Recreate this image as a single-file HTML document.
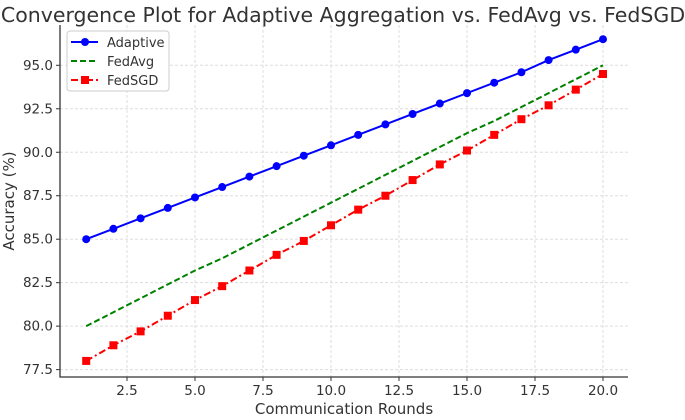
<!DOCTYPE html>
<html><head><meta charset="utf-8"><style>
body{margin:0;background:#fff;}
svg{font-family:"DejaVu Sans","Liberation Sans",sans-serif;}
</style></head><body>
<svg id="chart" width="685" height="415" xmlns="http://www.w3.org/2000/svg">
<text x="343" y="22" text-anchor="middle" font-size="20.5" fill="#333">Convergence Plot for Adaptive Aggregation vs. FedAvg vs. FedSGD</text>
<g id="grid"></g>
<g id="axes"></g>
<g id="series"></g>
<text x="344" y="414" text-anchor="middle" font-size="15" fill="#333">Communication Rounds</text>
<text transform="translate(14,201) rotate(-90)" text-anchor="middle" font-size="15" fill="#333">Accuracy (%)</text>
<g>
<rect x="67" y="31" width="102" height="60" rx="3" fill="#fff" stroke="#ccc"/>
<g><line x1="71" y1="42" x2="98" y2="42" stroke="#0000ff" stroke-width="2"/><circle cx="85" cy="42" r="4" fill="#0000ff"/><text x="107" y="47" font-size="13" fill="#333">Adaptive</text></g>
<g><line x1="71" y1="61" x2="98" y2="61" stroke="#008000" stroke-width="2" stroke-dasharray="6,3"/><text x="107" y="66" font-size="13" fill="#333">FedAvg</text></g>
<g><line x1="71" y1="80" x2="98" y2="80" stroke="#ff0000" stroke-width="2" stroke-dasharray="7,3,2,3"/><rect x="81" y="76" width="8" height="8" fill="#ff0000"/><text x="107" y="85" font-size="13" fill="#333">FedSGD</text></g>
</g>
</svg>
<script>
const rounds=[1,2,3,4,5,6,7,8,9,10,11,12,13,14,15,16,17,18,19,20];
const adaptive=[85.0,85.6,86.2,86.8,87.4,88.0,88.6,89.2,89.8,90.4,91.0,91.6,92.2,92.8,93.4,94.0,94.6,95.3,95.9,96.5];
const fedavg=[80.0,80.8,81.6,82.4,83.2,83.9,84.7,85.5,86.3,87.1,87.9,88.7,89.5,90.3,91.1,91.8,92.6,93.4,94.2,95.0];
const fedsgd=[78.0,78.9,79.7,80.6,81.5,82.3,83.2,84.1,84.9,85.8,86.7,87.5,88.4,89.3,90.1,91.0,91.9,92.7,93.6,94.5];
const xTicks=[2.5,5.0,7.5,10.0,12.5,15.0,17.5,20.0];
const yTicks=[77.5,80.0,82.5,85.0,87.5,90.0,92.5,95.0];
const NS="http://www.w3.org/2000/svg";
const X0=60,X1=628,Y0=25,Y1=377;
function sx(v){return 127+(v-2.5)*27.2;}
function sy(v){return 65.3-(v-95)*17.39;}
function mk(tag,attrs,parent){const e=document.createElementNS(NS,tag);for(const k in attrs)e.setAttribute(k,attrs[k]);parent.appendChild(e);return e;}
const grid=document.getElementById('grid'),axes=document.getElementById('axes'),series=document.getElementById('series');
xTicks.forEach(t=>{const x=sx(t);
 const g=mk('line',{x1:x,x2:x,y1:Y0,y2:Y1,stroke:'#ddd','stroke-dasharray':'3,2'},grid);
 
 
 mk('line',{x1:x,x2:x,y1:Y1,y2:Y1+4,stroke:'#333'},axes);
 const tx=mk('text',{x:x,y:Y1+18,'text-anchor':'middle','font-size':'13.5',fill:'#333'},axes);tx.textContent=t.toFixed(1);
 
 
});
yTicks.forEach(t=>{const y=sy(t);
 const g=mk('line',{x1:X0,x2:X1,y1:y,y2:y,stroke:'#ddd','stroke-dasharray':'3,2'},grid);
 
 
 mk('line',{x1:X0-4,x2:X0,y1:y,y2:y,stroke:'#333'},axes);
 const tx=mk('text',{x:X0-7,y:y+4.5,'text-anchor':'end','font-size':'13.5',fill:'#333'},axes);tx.textContent=t.toFixed(1);
 
 
});
const sp=mk('path',{d:`M${X0},${Y0}V${Y1}H${X1}`,fill:'none',stroke:'#333','stroke-width':1.3},axes);


function line(vals,color,dash,name){
 const d=vals.map((v,i)=>(i?'L':'M')+sx(rounds[i])+','+sy(v)).join('');
 const p=mk('path',{d:d,fill:'none',stroke:color,'stroke-width':2,'stroke-dasharray':dash},series);
 
 
}
line(adaptive,'#0000ff','none','adaptive-line');
line(fedavg,'#008000','6,3','fedavg-line');
line(fedsgd,'#ff0000','7,3,2,3','fedsgd-line');
adaptive.forEach((v,i)=>{const c=mk('circle',{cx:sx(rounds[i]),cy:sy(v),r:4,fill:'#0000ff'},series);
 
 });
fedsgd.forEach((v,i)=>{const r=mk('rect',{x:sx(rounds[i])-4,y:sy(v)-4,width:8,height:8,fill:'#ff0000'},series);
 
 });
</script>
</body></html>
